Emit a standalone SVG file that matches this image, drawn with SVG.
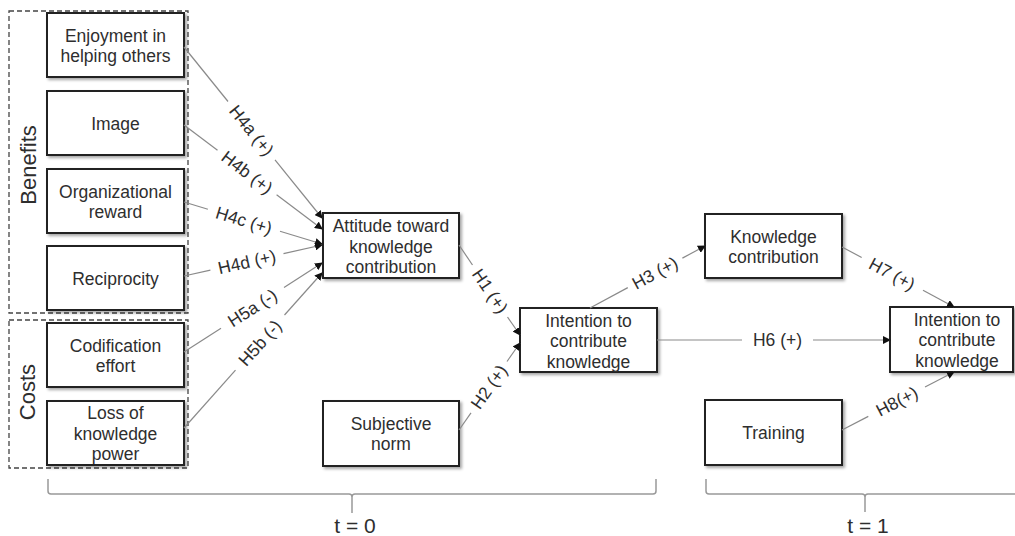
<svg xmlns="http://www.w3.org/2000/svg" width="1015" height="536" viewBox="0 0 1015 536">
<defs>
<filter id="sh" x="-10%" y="-10%" width="125%" height="130%">
<feDropShadow dx="2" dy="2" stdDeviation="1.5" flood-color="#000" flood-opacity="0.35"/>
</filter>
<marker id="ah" markerUnits="userSpaceOnUse" markerWidth="8" markerHeight="8" refX="7" refY="4" orient="auto">
<path d="M0,0 L8,4 L0,8 z" fill="#111"/>
</marker>
<style>
.box{fill:#fff;stroke:#222;stroke-width:2;filter:url(#sh)}
.t{font-family:"Liberation Sans",Arial,sans-serif;font-size:17.5px;fill:#2e2e2e;text-anchor:middle}
.lab{font-family:"Liberation Sans",Arial,sans-serif;font-size:17.5px;fill:#2e2e2e;text-anchor:middle;dominant-baseline:central}
.grp{fill:none;stroke:#444;stroke-width:1.3;stroke-dasharray:5 3}
.c{fill:none;stroke:#8a8a8a;stroke-width:1.2}
.br{fill:none;stroke:#999;stroke-width:1.5}
.big{font-family:"Liberation Sans",Arial,sans-serif;font-size:22px;fill:#2e2e2e;text-anchor:middle}
.tt{font-family:"Liberation Sans",Arial,sans-serif;font-size:21px;fill:#2e2e2e;text-anchor:middle}
</style>
</defs>
<rect width="1015" height="536" fill="#fff"/>

<g id="benefits">
<rect class="grp" x="9" y="11" width="179" height="302"/>
<text class="big" transform="translate(36,165) rotate(-90)">Benefits</text>
</g>
<g id="costs">
<rect class="grp" x="9" y="320" width="179" height="148"/>
<text class="big" transform="translate(35,392) rotate(-90)">Costs</text>
</g>

<g id="enjoyment">
<rect class="box" x="47" y="13" width="137" height="64"/>
<text class="t" x="115.5" y="41.5">Enjoyment in</text>
<text class="t" x="115.5" y="62">helping others</text>
</g>
<g id="image">
<rect class="box" x="47" y="91" width="137" height="64"/>
<text class="t" x="115.5" y="129.5">Image</text>
</g>
<g id="orgreward">
<rect class="box" x="47" y="169" width="137" height="64"/>
<text class="t" x="115.5" y="197.5">Organizational</text>
<text class="t" x="115.5" y="218">reward</text>
</g>
<g id="reciprocity">
<rect class="box" x="47" y="246" width="137" height="64"/>
<text class="t" x="115.5" y="284.5">Reciprocity</text>
</g>
<g id="codification">
<rect class="box" x="47" y="323" width="137" height="64"/>
<text class="t" x="115.5" y="351.5">Codification</text>
<text class="t" x="115.5" y="372">effort</text>
</g>
<g id="loss">
<rect class="box" x="47" y="401" width="137" height="64"/>
<text class="t" x="115.5" y="419">Loss of</text>
<text class="t" x="115.5" y="439.5">knowledge</text>
<text class="t" x="115.5" y="460">power</text>
</g>
<g id="attitude">
<rect class="box" x="323" y="213" width="136" height="65"/>
<text class="t" x="391" y="232">Attitude toward</text>
<text class="t" x="391" y="252.5">knowledge</text>
<text class="t" x="391" y="273">contribution</text>
</g>
<g id="subjnorm">
<rect class="box" x="323" y="401" width="136" height="65"/>
<text class="t" x="391" y="429.5">Subjective</text>
<text class="t" x="391" y="450">norm</text>
</g>
<g id="intention0">
<rect class="box" x="520" y="308" width="137" height="64"/>
<text class="t" x="588.5" y="326.5">Intention to</text>
<text class="t" x="588.5" y="347">contribute</text>
<text class="t" x="588.5" y="367.5">knowledge</text>
</g>
<g id="kcontribution">
<rect class="box" x="705" y="214" width="137" height="64"/>
<text class="t" x="773.5" y="242.5">Knowledge</text>
<text class="t" x="773.5" y="263">contribution</text>
</g>
<g id="training">
<rect class="box" x="705" y="400" width="137" height="65"/>
<text class="t" x="773.5" y="439">Training</text>
</g>
<g id="intention1">
<rect class="box" x="890" y="307" width="123" height="65"/>
<text class="t" x="957" y="325.5">Intention to</text>
<text class="t" x="957" y="346">contribute</text>
<text class="t" x="957" y="366.5">knowledge</text>
</g>

<g id="connectors">
<path class="c" d="M184,47 L228,101.5"/>
<path class="c" d="M275,159.8 L322,218" marker-end="url(#ah)"/>
<text class="lab" transform="translate(251.5,130.5) rotate(51.1)">H4a (+)</text>

<path class="c" d="M184,125 L217.5,150.3"/>
<path class="c" d="M276.6,194.8 L322,229" marker-end="url(#ah)"/>
<text class="lab" transform="translate(247,172.5) rotate(37)">H4b (+)</text>

<path class="c" d="M184,202 L207.9,209.3"/>
<path class="c" d="M280,231.2 L322,244" marker-end="url(#ah)"/>
<text class="lab" transform="translate(244,220.5) rotate(16.9)">H4c (+)</text>

<path class="c" d="M184,276 L210.4,270.1"/>
<path class="c" d="M283.5,253.7 L322,245" marker-end="url(#ah)"/>
<text class="lab" transform="translate(247,262) rotate(-12.7)">H4d (+)</text>

<path class="c" d="M184,352 L221,328.2"/>
<path class="c" d="M284,287.5 L322,263" marker-end="url(#ah)"/>
<text class="lab" transform="translate(252.5,308) rotate(-32.8)">H5a (-)</text>

<path class="c" d="M184,428 L235.5,370.2"/>
<path class="c" d="M284.5,315 L322,273" marker-end="url(#ah)"/>
<text class="lab" transform="translate(260,343) rotate(-48.3)">H5b (-)</text>

<path class="c" d="M459,245 L472.5,265"/>
<path class="c" d="M507.5,317 L520,335" marker-end="url(#ah)"/>
<text class="lab" transform="translate(490,291) rotate(55.9)">H1 (+)</text>

<path class="c" d="M459,430 L471,412.8"/>
<path class="c" d="M507,361.5 L520,343" marker-end="url(#ah)"/>
<text class="lab" transform="translate(489,387) rotate(-55)">H2 (+)</text>

<path class="c" d="M590,308 L627.8,287.6"/>
<path class="c" d="M682.4,258.1 L705,246" marker-end="url(#ah)"/>
<text class="lab" transform="translate(655,273) rotate(-28.3)">H3 (+)</text>

<path class="c" d="M657,340 L742,340"/>
<path class="c" d="M813,340 L890,340" marker-end="url(#ah)"/>
<text class="lab" x="777.5" y="340">H6 (+)</text>

<path class="c" d="M842,247 L861.7,257.5"/>
<path class="c" d="M923,290.3 L954,307" marker-end="url(#ah)"/>
<text class="lab" transform="translate(892,274) rotate(28.2)">H7 (+)</text>

<path class="c" d="M842,430 L868.3,416.4"/>
<path class="c" d="M925,387 L954,372" marker-end="url(#ah)"/>
<text class="lab" transform="translate(897,401.5) rotate(-27.4)">H8(+)</text>
</g>

<g id="time0">
<path class="br" d="M48,479 L48,491 Q48,494 51,494 L349,494 Q352,494 352,497 L352,513 M352,497 Q352,494 355,494 L653,494 Q656,494 656,491 L656,479"/>
<text class="tt" x="355" y="533">t = 0</text>
</g>
<g id="time1">
<path class="br" d="M706,479 L706,491 Q706,494 709,494 L862,494 Q865,494 865,497 L865,512 M865,497 Q865,494 868,494 L1016,494"/>
<text class="tt" x="868" y="533">t = 1</text>
</g>
</svg>
